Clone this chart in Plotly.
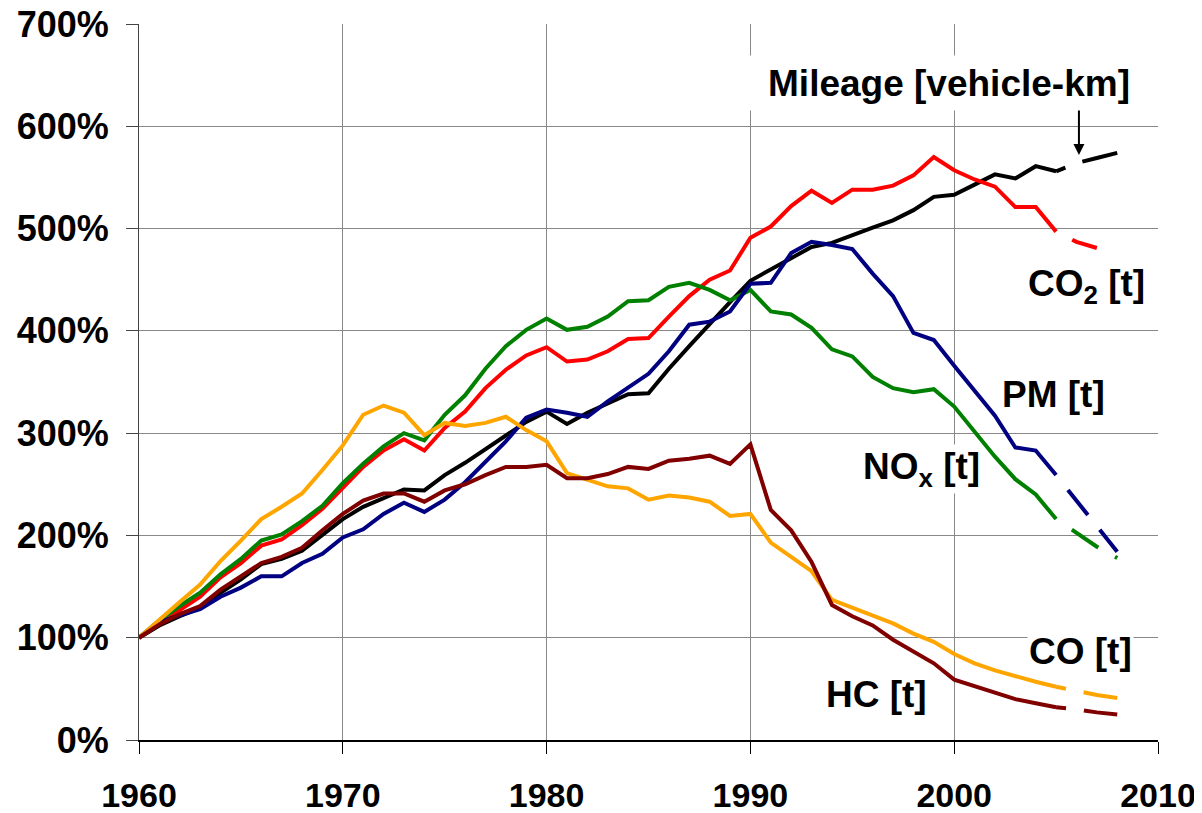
import plotly.graph_objects as go

# Index 1960 = 100%
years = list(range(1960, 2009))

mileage = [100, 112, 121, 129, 144, 157, 172, 177, 185, 200,
           216, 228, 236, 245, 244, 259, 271, 284, 298, 311,
           321, 309, 320, 329, 338, 339, 363, 385, 407, 428,
           449, 460, 471, 482, 486, 494, 501, 508, 518, 531,
           533, 543, 553, 549, 561, 556, 564, 569, 574]

co2 = [100, 114, 127, 140, 159, 173, 190, 196, 210, 226,
       246, 267, 283, 294, 283, 305, 321, 344, 362, 376,
       384, 370, 372, 380, 392, 393, 414, 434, 450, 459,
       491, 502, 522, 537, 525, 538, 538, 542, 552, 570,
       557, 548, 541, 521, 521, 497, 487, 481, None]

nox = [100, 117, 131, 144, 162, 177, 195, 201, 214, 229,
       251, 270, 287, 300, 293, 318, 337, 363, 385, 401,
       412, 401, 404, 414, 429, 430, 443, 447, 440, 430,
       440, 419, 416, 403, 382, 375, 355, 344, 340, 343,
       326, 302, 277, 255, 240, 216, 202, 189, 178]

pm = [100, 115, 122, 128, 140, 149, 160, 160, 173, 182,
      198, 206, 221, 232, 223, 235, 252, 272, 292, 315,
      323, 320, 316, 331, 344, 358, 380, 406, 409, 419,
      446, 447, 476, 487, 484, 480, 456, 434, 398, 391,
      366, 342, 317, 286, 283, 259, 234, 209, 184]

co = [100, 118, 135, 152, 175, 195, 216, 228, 241, 264,
      288, 318, 327, 320, 298, 310, 307, 310, 316, 303,
      292, 261, 254, 248, 246, 235, 239, 237, 233, 219,
      221, 193, 179, 165, 137, 129, 122, 114, 104, 96,
      84, 75, 68, 62, 57, 52, 48, 44, 41]

hc = [100, 113, 123, 131, 147, 160, 173, 179, 188, 205,
      221, 234, 241, 241, 233, 244, 250, 259, 267, 267,
      269, 256, 256, 260, 267, 265, 273, 275, 278, 270,
      289, 225, 205, 174, 132, 121, 112, 98, 87, 75,
      59, 53, 47, 40, 36, 32, 30, 27, 25]

LAST_SOLID = 2005  # values after this year are drawn dashed

series = [
    ("Mileage", mileage, "#000000", "10px,18px,40px,18px"),
    ("CO2", co2, "#ff0000", "0px,18px,32px,0px"),
    ("NOx", nox, "#008000", "0px,19px,32px,0px"),
    ("PM", pm, "#000080", "0px,19px,32px,0px"),
    ("CO", co, "#ffa500", "10px,18px,40px,18px"),
    ("HC", hc, "#800000", "10px,18px,40px,18px"),
]

FONT = "Arial, Liberation Sans, sans-serif"

fig = go.Figure()
cut = years.index(LAST_SOLID)
for name, vals, color, dash in series:
    fig.add_trace(go.Scatter(x=years[:cut + 1], y=vals[:cut + 1], mode="lines",
                             line=dict(color=color, width=4), name=name))
    fig.add_trace(go.Scatter(x=years[cut:], y=vals[cut:], mode="lines",
                             line=dict(color=color, width=4, dash=dash), name=name))

# series labels (text, x-year, y-percent, box width)
labels = [
    ("Mileage [vehicle-km]", 1999.75, 642, 410),
    ("CO<sub>2</sub> [t]", 2006.5, 444, None),
    ("PM [t]", 2004.85, 338, None),
    ("NO<sub>x</sub> [t]", 1998.4, 265, None),
    ("CO [t]", 2006.2, 87, None),
    ("HC [t]", 1996.2, 44, None),
]
for txt, lx, ly, w in labels:
    fig.add_annotation(x=lx, y=ly, text=txt, showarrow=False, bgcolor="white",
                       width=w, height=52 if w else None,
                       font=dict(family=FONT, size=37, color="black", weight="bold"))

# arrow pointing at the break in the mileage line
fig.add_annotation(x=2006.12, y=572, ax=0, ay=-46, text="", showarrow=True,
                   arrowhead=2, arrowsize=1.1, arrowwidth=2, arrowcolor="black")

# the page body adds an 8px margin, so the figure is 8px smaller on each side
fig.update_layout(
    width=1194, height=805,
    margin=dict(l=131, r=44, t=16, b=73),
    paper_bgcolor="white", plot_bgcolor="white",
    showlegend=False,
    font=dict(family=FONT, size=34, color="black"),
)
fig.update_xaxes(range=[1960, 2010], dtick=10, tick0=1960, automargin=False,
                 showgrid=True, gridcolor="#888888", gridwidth=1,
                 showline=True, linecolor="black", linewidth=2,
                 ticks="outside", ticklen=12, tickcolor="black",
                 ticklabelstandoff=12, ticklabeloverflow="allow",
                 tickfont=dict(family=FONT, size=34, weight="bold"),
                 zeroline=False)
fig.update_yaxes(range=[0, 700], dtick=100, ticksuffix="%", automargin=False,
                 showgrid=True, gridcolor="#888888", gridwidth=1,
                 showline=True, linecolor="#444444", linewidth=1,
                 ticks="outside", ticklen=12, tickcolor="#444444",
                 ticklabelstandoff=10, ticklabeloverflow="allow",
                 tickfont=dict(family=FONT, size=36, weight="bold"),
                 zeroline=False)

fig.write_html("out.html")
